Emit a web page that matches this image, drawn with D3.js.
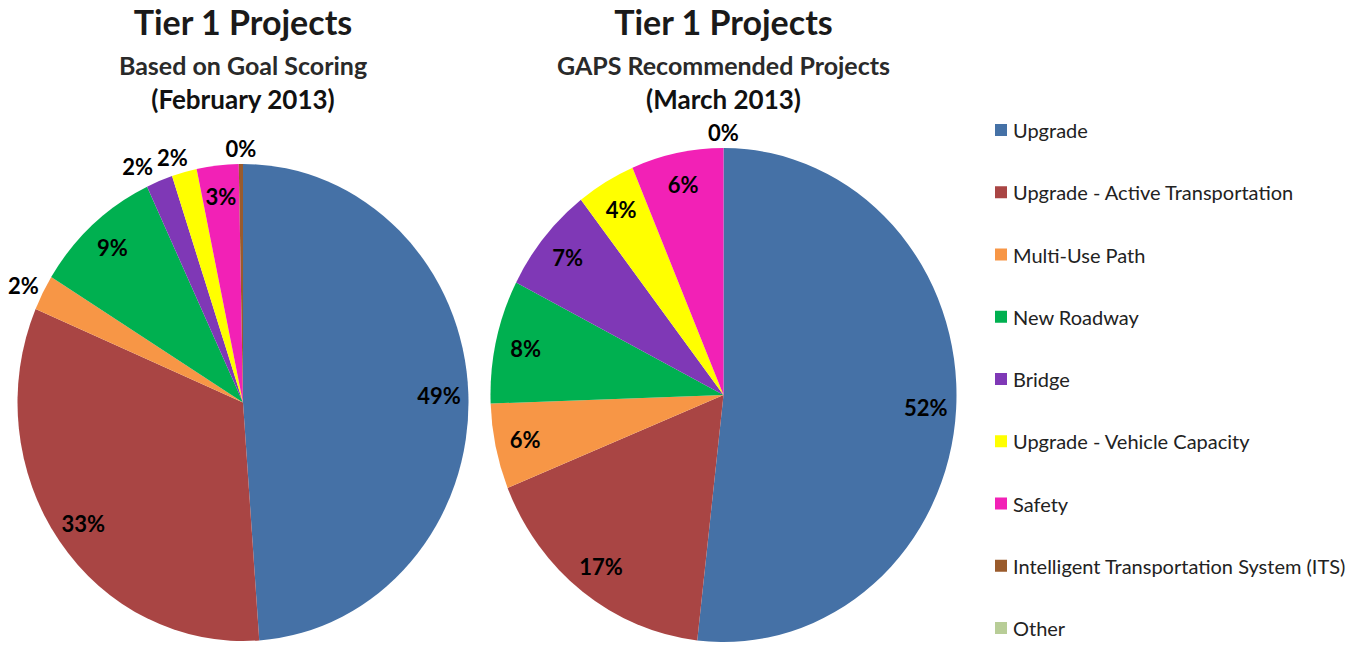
<!DOCTYPE html>
<html lang="en">
<head>
<meta charset="utf-8">
<title>Tier 1 Projects</title>
<script src="https://d3js.org/d3.v7.min.js"></script>
<style>
  body { margin: 0; background: #fff; }
  text { font-family: Lato, "Open Sans", sans-serif; }
</style>
</head>
<body>
<div id="chart"></div>
<script>
// categories and colours
let categories = ["Upgrade", "Upgrade - Active Transportation", "Multi-Use Path", "New Roadway",
                  "Bridge", "Upgrade - Vehicle Capacity", "Safety",
                  "Intelligent Transportation System (ITS)", "Other"];
let colors = ["#4571a6", "#a94544", "#f79646", "#00b050", "#7f38b6", "#ffff00", "#f221b6", "#9a5b2c", "#b8cd97"];
// shares in percent
let febValues = [48.9, 32.6, 2.4, 9.2, 1.9, 1.8, 3.0, 0.3, 0];
let marValues = [51.9, 17.1, 5.6, 8.1, 7.0, 4.1, 6.4, 0, 0];
let febTitles = ["Tier 1 Projects", "Based on Goal Scoring", "(February 2013)"];
let marTitles = ["Tier 1 Projects", "GAPS Recommended Projects", "(March 2013)"];

let width = 1360, height = 645;
let labelSize = 22;
let svg = d3.select("#chart").append("svg")
            .attr("width", width)
            .attr("height", height);

let color = d3.scaleOrdinal(categories, colors);

function drawPie(values, titles, cx, cy, rx, ry) {
  let total = d3.sum(values);
  let pie = d3.pie().sort(null).value(d => d);
  let arcs = pie(values);
  arcs.forEach((a, i) => a.cat = categories[i]);
  let stretch = ry / rx;

  let arc = d3.arc().innerRadius(0).outerRadius(rx);
  let inR = rx * 0.87, outR = rx * 1.02;
  let inArc = d3.arc().innerRadius(inR).outerRadius(inR);
  let outArc = d3.arc().innerRadius(outR).outerRadius(outR);

  let g = svg.append("g").attr("transform", "translate(" + cx + "," + cy + ")");
  g.append("g")
    .attr("transform", "scale(1," + stretch + ")")
    .selectAll("path")
    .data(arcs)
    .enter()
    .append("path")
    .attr("fill", d => color(d.cat))
    .attr("d", arc);

  // labels: small slices outside the rim, skip a second 0% that would overlap
  let labels = [];
  arcs.forEach((d, i) => {
    let pct = Math.round(d.value / total * 100);
    if (d.value === 0 && i > 0 && Math.round(arcs[i - 1].value / total * 100) === 0) return;
    if (pct >= 3) {
      let c = inArc.centroid(d);
      labels.push({ x: c[0], y: c[1] * stretch, text: pct + "%", anchor: "middle", out: false });
    } else {
      let c = outArc.centroid(d);
      let anchor = c[0] < -10 ? "end" : (c[0] > 10 ? "start" : "middle");
      let shift = labelSize / 2 * (c[1] / outR);
      labels.push({ x: c[0], y: c[1] * stretch + shift, text: pct + "%", anchor: anchor, out: true });
    }
  });
  let texts = g.selectAll(".lbl")
    .data(labels)
    .enter()
    .append("text")
    .attr("class", "lbl")
    .attr("x", d => d.x)
    .attr("y", d => d.y)
    .attr("text-anchor", d => d.anchor)
    .attr("dominant-baseline", "central")
    .attr("font-size", labelSize)
    .attr("font-weight", "bold")
    .attr("fill", "#000")
    .text(d => d.text);

  // push apart outside labels that collide
  let outs = texts.filter(d => d.out).nodes();
  for (let k = 1; k < outs.length; k++) {
    let a = outs[k - 1].getBBox(), b = outs[k].getBBox();
    let overlapX = a.x + a.width + 4 - b.x;
    let overlapY = Math.min(a.y + a.height, b.y + b.height) - Math.max(a.y, b.y);
    if (overlapX > 0 && overlapY > 0 && b.x > a.x) {
      let da = d3.select(outs[k - 1]).datum(), db = d3.select(outs[k]).datum();
      da.x -= overlapX / 2;
      db.x += overlapX / 2;
      d3.select(outs[k - 1]).attr("x", da.x);
      d3.select(outs[k]).attr("x", db.x);
    }
  }

  // title block
  let t = svg.append("g").attr("transform", "translate(" + cx + ",0)");
  t.append("text").attr("y", 35).attr("text-anchor", "middle")
    .attr("font-size", 34).attr("font-weight", "bold").attr("fill", "#1a1a1a")
    .text(titles[0]);
  t.append("text").attr("y", 75).attr("text-anchor", "middle")
    .attr("font-size", 25).attr("font-weight", "bold").attr("fill", "#2a2a2a")
    .text(titles[1]);
  t.append("text").attr("y", 109).attr("text-anchor", "middle")
    .attr("font-size", 26).attr("font-weight", "bold").attr("fill", "#111")
    .text(titles[2]);
}

drawPie(febValues, febTitles, 243, 402.5, 225.5, 238.5);
drawPie(marValues, marTitles, 723.5, 395, 233, 247);

// legend
let ly = d3.scalePoint().domain(categories).range([130, 628]);
let legend = svg.append("g").selectAll("g")
  .data(categories)
  .enter()
  .append("g")
  .attr("transform", d => "translate(995," + ly(d) + ")");
legend.append("rect")
  .attr("x", 0).attr("y", -6)
  .attr("width", 12).attr("height", 12)
  .attr("fill", d => color(d));
legend.append("text")
  .attr("x", 18).attr("y", 0)
  .attr("dominant-baseline", "central")
  .attr("font-size", 20)
  .attr("fill", "#222")
  .text(d => d);
</script>
</body>
</html>
